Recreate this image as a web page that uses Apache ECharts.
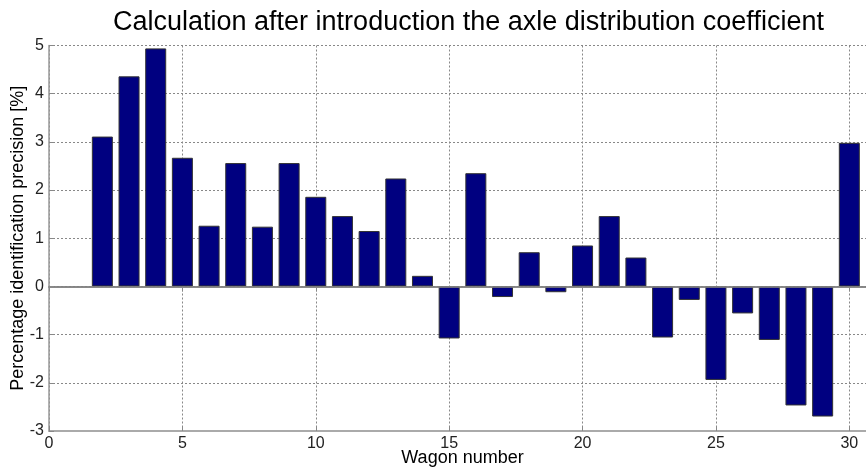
<!DOCTYPE html>
<html>
<head>
<meta charset="utf-8">
<script src="https://cdn.jsdelivr.net/npm/echarts@6/dist/echarts.min.js"></script>
<style>
html,body{margin:0;padding:0;background:#fff;}
#chart{width:866px;height:468px;}
</style>
</head>
<body>
<div id="chart"></div>
<script>
var wagons = [2,3,4,5,6,7,8,9,10,11,12,13,14,15,16,17,18,19,20,21,22,23,24,25,26,27,28,29,30];
var precision = [3.11,4.36,4.94,2.67,1.26,2.56,1.24,2.56,1.86,1.46,1.15,2.24,0.22,-1.08,2.35,-0.22,0.71,-0.12,0.85,1.46,0.60,-1.06,-0.28,-1.94,-0.56,-1.11,-2.47,-2.70,2.98];
var xTicks = [0,5,10,15,20,25,30];
var yTicks = [-3,-2,-1,0,1,2,3,4,5];
var titleText = 'Calculation after introduction the axle distribution coefficient';
var xName = 'Wagon number';
var yName = 'Percentage identification precision [%]';

var data = wagons.map(function(w,i){return [w, precision[i]];});
var font = 'Liberation Sans, Arial, sans-serif';
var chart = echarts.init(document.getElementById('chart'), null, {renderer:'canvas'});
chart.setOption({
  animation:false,
  backgroundColor:'#fff',
  title:{text:titleText,left:108,top:4,textStyle:{fontFamily:font,fontWeight:'normal',fontSize:27,color:'#000'}},
  grid:{left:49,right:-10,top:45.5,bottom:37,containLabel:false,outerBoundsMode:'none'},
  xAxis:[{
    type:'value',min:0,max:31,interval:5,
    name:xName,nameLocation:'middle',nameGap:18,nameMoveOverlap:false,
    nameTextStyle:{fontFamily:font,fontSize:18,color:'#000'},
    axisLine:{show:true,onZero:false,lineStyle:{color:'#aaa',width:2}},
    axisTick:{show:true,inside:true,length:5,lineStyle:{color:'#888'}},
    axisLabel:{fontFamily:font,fontSize:16,color:'#222',margin:5,showMaxLabel:false,
      formatter:function(v){return xTicks.indexOf(v)>=0?String(v):'';}},
    splitLine:{show:true,lineStyle:{color:'#888',type:[2,2],width:1}}
  },{
    type:'value',min:0,max:31,interval:5,position:'top',
    axisLine:{show:true,lineStyle:{color:'#666',width:1.5}},
    axisTick:{show:true,inside:true,length:5,lineStyle:{color:'#888'}},
    axisLabel:{show:false},splitLine:{show:false}
  }],
  yAxis:{
    type:'value',min:-3,max:5,interval:1,
    name:yName,nameLocation:'middle',nameGap:22,nameMoveOverlap:false,
    nameTextStyle:{fontFamily:font,fontSize:18,color:'#000'},
    axisLine:{show:true,lineStyle:{color:'#999',width:1.5}},
    axisTick:{show:true,inside:true,length:5,lineStyle:{color:'#888'}},
    axisLabel:{fontFamily:font,fontSize:16,color:'#222',margin:5,
      formatter:function(v){return yTicks.indexOf(v)>=0?String(v):'';}},
    splitLine:{show:true,lineStyle:{color:'#888',type:[2,2],width:1}}
  },
  series:[{
    type:'bar',data:data,barWidth:21,
    itemStyle:{color:'#000080',borderColor:'#333',borderWidth:1},
    markLine:{silent:true,symbol:'none',label:{show:false},
      lineStyle:{color:'#888',type:'solid',width:1.5},
      data:[{yAxis:0}]}
  }]
});
</script>
</body>
</html>
